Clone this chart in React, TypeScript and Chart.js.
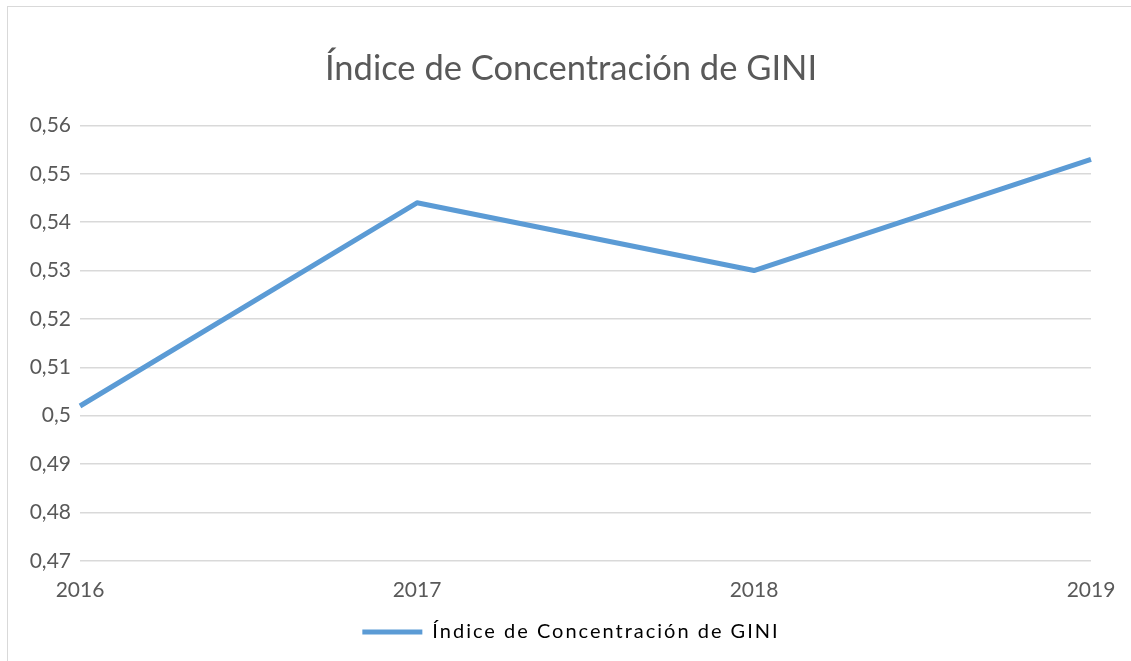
import React, { useEffect, useRef } from 'react';
import { Chart, registerables } from 'chart.js';

Chart.register(...registerables);

const chartTitle = 'Índice de Concentración de GINI';
const seriesName = 'Índice de Concentración de GINI';
const years = ['2016', '2017', '2018', '2019'];
const giniValues = [0.502, 0.544, 0.53, 0.553];
const yMin = 0.47;
const yMax = 0.56;
const yStep = 0.01;

const FONT = 'Lato, "Open Sans", sans-serif';
const TEXT = '#595959';
const GRID = '#d9d9d9';
const BLUE = '#5B9BD5';

const fmt = (v: number) => String(Number(v.toFixed(2))).replace('.', ',');

const legendSpacing = {
  id: 'legendSpacing',
  afterInit(chart: any) {
    const leg = chart.legend;
    if (!leg) return;
    const wrap = (name: string) => {
      const orig = leg[name].bind(leg);
      leg[name] = (...args: any[]) => {
        const ctx = chart.ctx as any;
        const prev = ctx.letterSpacing;
        ctx.letterSpacing = '2px';
        const r = orig(...args);
        ctx.letterSpacing = prev || '0px';
        return r;
      };
    };
    wrap('fit');
    wrap('draw');
  },
};

export default function App() {
  const ref = useRef<HTMLCanvasElement | null>(null);
  useEffect(() => {
    if (!ref.current) return;
    const chart = new Chart(ref.current, {
      type: 'line',
      data: {
        labels: years,
        datasets: [
          {
            label: seriesName,
            data: giniValues,
            borderColor: BLUE,
            backgroundColor: BLUE,
            borderWidth: 5,
            pointRadius: 0,
            tension: 0,
            borderJoinStyle: 'round',
          },
        ],
      },
      options: {
        animation: false,
        responsive: false,
        maintainAspectRatio: false,
        layout: { padding: { left: 0, right: 0, top: 0, bottom: 9 } },
        plugins: {
          title: {
            display: true,
            text: chartTitle,
            color: TEXT,
            font: { family: FONT, size: 34.5, weight: 'normal' },
            padding: { top: 41, bottom: 36 },
          },
          legend: {
            display: true,
            position: 'bottom',
            labels: {
              color: TEXT,
              font: { family: FONT, size: 20 },
              boxWidth: 60,
              boxHeight: 5,
              generateLabels: () => [
                {
                  text: seriesName,
                  fillStyle: BLUE,
                  strokeStyle: BLUE,
                  lineWidth: 0,
                  hidden: false,
                  datasetIndex: 0,
                },
              ],
            },
          },
          tooltip: { enabled: false },
        },
        scales: {
          x: {
            offset: false,
            grid: { display: false },
            border: { display: false },
            ticks: {
              color: TEXT,
              font: { family: FONT, size: 21 },
              padding: 9,
              maxRotation: 0,
              autoSkip: false,
            },
          },
          y: {
            min: yMin,
            max: yMax,
            grid: { color: GRID, lineWidth: 1.5, drawTicks: false },
            border: { display: false },
            ticks: {
              stepSize: yStep,
              color: TEXT,
              font: { family: FONT, size: 21 },
              padding: 9,
              callback: (v: any) => fmt(Number(v)),
            },
            afterFit: (s: any) => {
              s.width = 72;
            },
          },
          yRight: {
            display: true,
            position: 'right',
            min: yMin,
            max: yMax,
            grid: { display: false },
            border: { display: false },
            ticks: { display: false },
            afterFit: (s: any) => {
              s.width = 43;
            },
          },
        },
      },
      plugins: [legendSpacing],
    });
    return () => chart.destroy();
  }, []);

  return (
    <div
      style={{
        position: 'fixed',
        left: 0,
        top: 0,
        width: 1131,
        height: 661,
        overflow: 'hidden',
        background: '#fff',
      }}
    >
      <div
        style={{
          position: 'absolute',
          left: 7,
          top: 6,
          width: 1128,
          height: 700,
          border: `1px solid ${GRID}`,
          boxSizing: 'border-box',
        }}
      >
        <canvas ref={ref} width={1126} height={654} style={{ display: 'block' }} />
      </div>
    </div>
  );
}
